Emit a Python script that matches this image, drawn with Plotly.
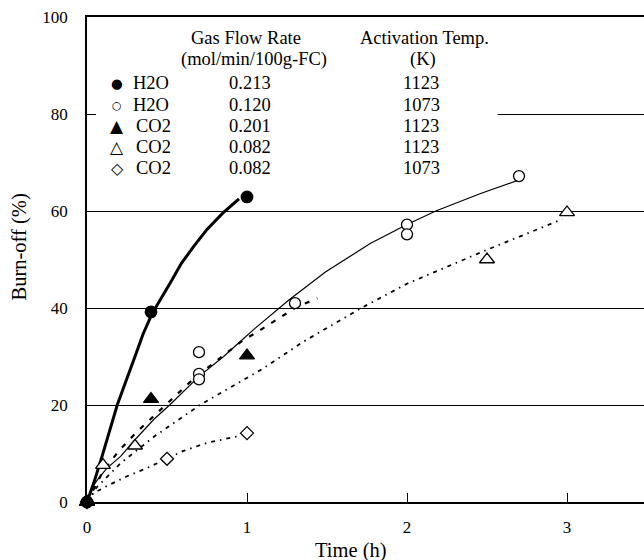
import plotly.graph_objects as go

# ---------------- data ----------------
# measured points
t_h2o_213 = [0, 0.4, 1.0]
b_h2o_213 = [0, 39.2, 62.9]

t_h2o_120 = [0, 0.7, 0.7, 0.7, 1.3, 2.0, 2.0, 2.7]
b_h2o_120 = [0, 30.9, 26.4, 25.3, 41.0, 57.2, 55.2, 67.2]

t_co2_201 = [0, 0.4, 1.0]
b_co2_201 = [0, 21.2, 30.2]

t_co2_082_1123 = [0, 0.1, 0.3, 2.5, 3.0]
b_co2_082_1123 = [0, 7.6, 11.6, 50.0, 59.7]

t_co2_082_1073 = [0, 0.5, 1.0]
b_co2_082_1073 = [0, 8.9, 14.2]

# fitted curves
fit_t_h2o_213 = [0, 0.042, 0.094, 0.19, 0.30, 0.35, 0.406, 0.48, 0.53, 0.59, 0.667, 0.75, 0.85, 0.95]
fit_b_h2o_213 = [0, 3.9, 9.4, 20.1, 30.0, 34.6, 38.8, 42.8, 45.7, 49.2, 52.7, 56.2, 59.6, 62.5]

fit_t_h2o_120 = [0, 0.03, 0.073, 0.125, 0.21, 0.31, 0.417, 0.52, 0.7, 0.854, 0.958, 1.05, 1.26, 1.49, 1.77, 2.0, 2.18, 2.46, 2.7]
fit_b_h2o_120 = [0, 2.9, 4.9, 7.0, 9.4, 13.2, 17.0, 20.1, 25.9, 30.0, 33.1, 35.8, 41.6, 47.4, 53.3, 57.2, 60.0, 63.6, 66.4]

fit_t_co2_201 = [0, 0.1, 0.2, 0.31, 0.42, 0.54, 0.64, 0.75, 0.86, 0.97, 1.09, 1.21, 1.31, 1.44]
fit_b_co2_201 = [0, 6.3, 10.6, 14.4, 17.8, 21.4, 24.6, 27.6, 30.4, 33.2, 35.6, 38.2, 40.2, 42.0]

fit_t_co2_082_1123 = [0, 0.06, 0.21, 0.42, 0.71, 1.09, 1.35, 1.72, 2.0, 2.5, 2.97]
fit_b_co2_082_1123 = [0, 3.0, 8.0, 13.5, 20.1, 27.3, 33.0, 40.1, 45.0, 52.0, 58.3]

fit_t_co2_082_1073 = [0, 0.04, 0.125, 0.25, 0.375, 0.5, 0.6, 0.75, 0.95]
fit_b_co2_082_1073 = [0, 1.8, 3.3, 5.3, 7.0, 8.9, 10.5, 12.2, 13.6]

# legend table
leg_gas = ["H2O", "H2O", "CO2", "CO2", "CO2"]
leg_rate = ["0.213", "0.120", "0.201", "0.082", "0.082"]
leg_temp = ["1123", "1073", "1123", "1123", "1073"]
leg_sym = ["\u25CF", "\u25CB", "\u25B2", "\u25B3", "\u25C7"]

x_ticks = [0, 1, 2, 3]
y_ticks = [0, 20, 40, 60, 80, 100]

# ---------------- figure ----------------
W, H = 644, 560
ML, MR, MT, MB = 87, 0, 17, 58
SERIF = "Liberation Serif, Times New Roman, serif"

fig = go.Figure()

def line(t, b, width, dash):
    fig.add_trace(go.Scatter(x=t, y=b, mode="lines", showlegend=False,
                             line=dict(color="black", width=width, dash=dash, shape="linear"),
                             hoverinfo="skip"))

line(fit_t_h2o_213, fit_b_h2o_213, 3, "solid")
line(fit_t_h2o_120, fit_b_h2o_120, 1.2, "solid")
line(fit_t_co2_201, fit_b_co2_201, 2.2, "5px,8px")
line(fit_t_co2_082_1123, fit_b_co2_082_1123, 1.8, "4px,5px,1.5px,5px")
line(fit_t_co2_082_1073, fit_b_co2_082_1073, 1.8, "4px,5px,1.5px,5px")

def pts(t, b, symbol, size, filled):
    fig.add_trace(go.Scatter(x=t, y=b, mode="markers", showlegend=False, cliponaxis=False,
                             marker=dict(symbol=symbol, size=size,
                                         color="black" if filled else "white",
                                         line=dict(color="black", width=1.3))))

pts(t_co2_082_1073, b_co2_082_1073, "diamond", 10, False)
pts(t_co2_082_1123, b_co2_082_1123, "triangle-up", 13, False)
pts(t_h2o_120, b_h2o_120, "circle", 11, False)
pts(t_co2_201, b_co2_201, "triangle-up", 13, True)
pts(t_h2o_213, b_h2o_213, "circle", 11.5, True)

# white box behind the legend table (covers grid line)
fig.add_shape(type="rect", xref="x", yref="y", x0=0.01, x1=2.567, y0=64, y1=99.6,
              fillcolor="white", line=dict(width=0), layer="between")

pw = W - ML - MR
ph = H - MT - MB

def px(x):
    return (x - ML) / pw

def py(y):
    return (H - MB - y) / ph

def ann(text, x, y, xanchor="center", size=18.5, family=SERIF, textangle=0):
    fig.add_annotation(text=text, x=px(x), y=py(y), xref="paper", yref="paper",
                       xanchor=xanchor, yanchor="middle", showarrow=False,
                       textangle=textangle, font=dict(family=family, size=size, color="black"))

ann("Gas Flow Rate", 246, 38)
ann("(mol/min/100g-FC)", 254, 59)
ann("Activation Temp.", 424, 38)
ann("(K)", 423, 59)
rows_y = [83, 105, 126.5, 147, 168]
sym_sizes = [13.5, 11, 17, 17, 16]
for i in range(5):
    ann(leg_sym[i], 117, rows_y[i], size=sym_sizes[i], family="DejaVu Sans")
    ann(leg_gas[i], 131 if leg_gas[i] == "H2O" else 133.5, rows_y[i], xanchor="left")
    ann(leg_rate[i], 250, rows_y[i])
    ann(leg_temp[i], 421, rows_y[i])

ann("Burn-off (%)", 18.5, 247, size=20.5, textangle=-90)
ann("Time (h)", 351, 550, size=20.5)

fig.update_layout(
    width=W, height=H,
    margin=dict(l=ML, r=MR, t=MT, b=MB, pad=0),
    paper_bgcolor="white", plot_bgcolor="white",
    font=dict(family=SERIF, size=17, color="black"),
    showlegend=False,
)
fig.update_xaxes(range=[0, pw / 160.0], tickvals=x_ticks, ticktext=[str(v) for v in x_ticks],
                 ticks="inside", ticklen=9, tickwidth=1, tickcolor="black",
                 showline=True, linecolor="black", linewidth=1.5, mirror=True,
                 showgrid=False, zeroline=False, ticklabelstandoff=9,
                 tickfont=dict(family=SERIF, size=17))
fig.update_yaxes(range=[0, 100], tickvals=y_ticks, ticktext=[str(v) for v in y_ticks],
                 ticks="inside", ticklen=9, tickwidth=1, tickcolor="black",
                 showline=True, linecolor="black", linewidth=1.5, mirror=False,
                 showgrid=True, gridcolor="black", gridwidth=1.2, zeroline=False,
                 ticklabelstandoff=14, tickfont=dict(family=SERIF, size=17))

fig.write_html("out.html")
